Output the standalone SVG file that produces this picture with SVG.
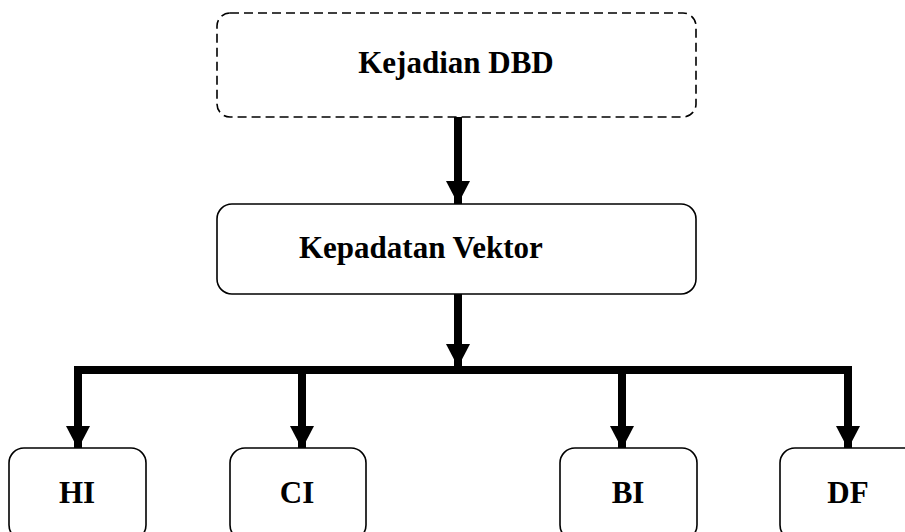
<svg xmlns="http://www.w3.org/2000/svg" width="905" height="532" viewBox="0 0 905 532">
<style>
.box{fill:#fff;stroke:#000;stroke-width:1.6}
.dash{stroke-dasharray:9 5}
.lbl{font-family:"Liberation Serif","Times New Roman",serif;font-weight:bold;font-size:31px;fill:#000}
.c{text-anchor:middle}
.con{stroke:#000;stroke-width:8;fill:none}
</style>
<defs>
<marker id="ah" viewBox="0 0 23 24" refX="23" refY="12" markerWidth="23" markerHeight="24" markerUnits="userSpaceOnUse" orient="auto">
<path d="M0,0 L23,12 L0,24 z" fill="#000"/>
</marker>
</defs>
<rect width="905" height="532" fill="#fff"/>
<g id="connectors">
<line class="con" x1="458" y1="117" x2="458" y2="204" marker-end="url(#ah)"/>
<line class="con" x1="458" y1="294" x2="458" y2="367" marker-end="url(#ah)"/>
<line class="con" x1="74" y1="370" x2="852" y2="370"/>
<line class="con" x1="78" y1="366" x2="78" y2="449" marker-end="url(#ah)"/>
<line class="con" x1="302" y1="370" x2="302" y2="449" marker-end="url(#ah)"/>
<line class="con" x1="622" y1="370" x2="622" y2="449" marker-end="url(#ah)"/>
<line class="con" x1="848" y1="366" x2="848" y2="449" marker-end="url(#ah)"/>
</g>
<g id="kejadian">
<rect class="box dash" x="217" y="13" width="479" height="104" rx="13"/>
<text class="lbl c" x="456" y="73">Kejadian DBD</text>
</g>
<g id="kepadatan">
<rect class="box" x="217" y="204" width="479" height="90" rx="15"/>
<text class="lbl" x="299" y="258">Kepadatan Vektor</text>
</g>
<g id="hi">
<rect class="box" x="9" y="448" width="137" height="92" rx="15"/>
<text class="lbl c" x="77" y="503">HI</text>
</g>
<g id="ci">
<rect class="box" x="230" y="448" width="136" height="92" rx="15"/>
<text class="lbl c" x="297" y="503">CI</text>
</g>
<g id="bi">
<rect class="box" x="560" y="448" width="137" height="92" rx="15"/>
<text class="lbl c" x="628" y="503">BI</text>
</g>
<g id="df">
<rect class="box" x="780" y="448" width="160" height="92" rx="15"/>
<text class="lbl c" x="848" y="503">DF</text>
</g>
</svg>
